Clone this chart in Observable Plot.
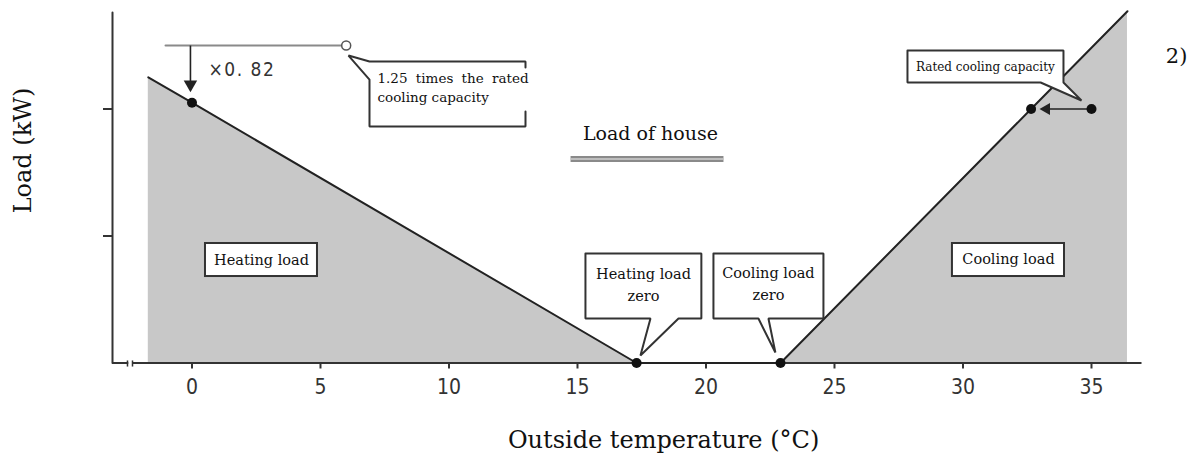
<!DOCTYPE html>
<html><head><meta charset="utf-8">
<script src="https://cdn.jsdelivr.net/npm/d3@7"></script>
<script src="https://cdn.jsdelivr.net/npm/@observablehq/plot@0.6"></script>
<style>body{margin:0;background:#fff}</style>
</head><body><div id="chart"></div>
<script>
// ---- data ----
const temperature = [-1.7, 0, 17.3, 22.9, 32.65, 36.4];   // outside temperature (°C)
const houseLoad   = [2.25, 2.05, 0, 0, 2.0, 2.77];        // load of house (kW, relative)
const xTicks = [0, 5, 10, 15, 20, 25, 30, 35];
const yTicks = [1, 2];
const ratedCooling = 2.0;
const overloadFactor = 1.25;
const derateFactor = 0.82;
const ratedTemp = 35;
const dotTemps = [0, 17.3, 22.9, 32.65, 35];
const dotLoads = [2.05, 0, 0, 2.0, 2.0];
const overloadLineTemps = [-1.03, 6.0];

// ---- layout ----
const W = 1197, H = 460;
const xDomain = [-3.093, 36.946], yDomain = [0, 2.76];
const serif = "'DejaVu Serif', 'Liberation Serif', serif";
const gothic = "'Liberation Sans Narrow', 'DejaVu Sans Condensed', 'Liberation Sans', sans-serif";
const ink = "#222";

const curve = temperature.map((t, i) => ({t, load: houseLoad[i]}));
const dots = dotTemps.map((t, i) => ({t, load: dotLoads[i]}));
const overloadLoad = ratedCooling * overloadFactor;

function path(pts, id) { return pts.map(([x, y]) => ({x, y, id})); }

// callout outlines (data coordinates)
const c1Fill = path([[6.907,2.374],[12.977,2.374],[12.977,1.862],[6.907,1.862],[6.907,2.232],[6.09,2.421],[6.907,2.374]], "c1");
const c1Stroke = path([[12.977,2.327],[12.977,2.374],[6.907,2.374],[6.09,2.421],[6.907,2.232],[6.907,1.862],[12.977,1.862],[12.977,1.980]], "c1s");
const callouts = [
  ...path([[27.84,2.461],[33.91,2.461],[33.91,2.209],[34.61,2.067],[33.02,2.209],[27.84,2.209],[27.84,2.461]], "c2"),
  ...path([[15.31,0.862],[19.82,0.862],[19.82,0.350],[18.93,0.350],[17.45,0.059],[17.84,0.350],[15.31,0.350],[15.31,0.862]], "c3"),
  ...path([[20.29,0.862],[24.57,0.862],[24.57,0.350],[22.43,0.350],[22.70,0.083],[22.04,0.350],[20.29,0.350],[20.29,0.862]], "c4")
];
const boxes = [
  {x1: 0.525, x2: 4.883, y1: 0.681, y2: 0.941},
  {x1: 29.59, x2: 33.95, y1: 0.681, y2: 0.941}
];
const serifLabels = [
  {x: 7.218, y: 2.240, text: "1.25 times the rated", anchor: "start", size: 13.5},
  {x: 7.218, y: 2.090, text: "cooling capacity", anchor: "start", size: 13.5},
  {x: 30.87, y: 2.327, text: "Rated cooling capacity", anchor: "middle", size: 12},
  {x: 17.84, y: 1.807, text: "Load of house", anchor: "middle", size: 19},
  {x: 2.704, y: 0.807, text: "Heating load", anchor: "middle", size: 14.5},
  {x: 31.77, y: 0.815, text: "Cooling load", anchor: "middle", size: 14.5},
  {x: 17.57, y: 0.697, text: "Heating load", anchor: "middle", size: 14.5},
  {x: 17.57, y: 0.524, text: "zero", anchor: "middle", size: 14.5},
  {x: 22.43, y: 0.705, text: "Cooling load", anchor: "middle", size: 14.5},
  {x: 22.43, y: 0.531, text: "zero", anchor: "middle", size: 14.5},
  {x: 38.31, y: 2.413, text: "2)", anchor: "middle", size: 21},
  {x: 18.35, y: -0.61, text: "Outside temperature (°C)", anchor: "middle", size: 24}
];

const chart = Plot.plot({
  width: W, height: H,
  marginLeft: 112, marginRight: 56, marginTop: 12, marginBottom: 97.5,
  x: {domain: xDomain},
  y: {domain: yDomain},
  marks: [
    Plot.areaY(curve, {x: "t", y: "load", fill: "#c8c8c8"}),
    // axis lines with break
    Plot.line([[xDomain[0], yDomain[1]], [xDomain[0], 0], [-2.51, 0]], {x: d => d[0], y: d => d[1], stroke: "#333", strokeWidth: 2}),
    Plot.link([{x1: -2.315, x2: xDomain[1]}], {x1: "x1", x2: "x2", y1: 0, y2: 0, stroke: "#333", strokeWidth: 2}),
    Plot.link([-2.51, -2.315], {x1: d => d, x2: d => d, y1: 0.02, y2: -0.028, stroke: "#333", strokeWidth: 1.5}),
    Plot.axisX({ticks: xTicks, tickSize: 6, tickPadding: 10, fontSize: 21, fontFamily: gothic, color: "#333", strokeWidth: 2, label: null}),
    Plot.axisY({ticks: yTicks, tickSize: 9, tickFormat: () => "", color: "#333", strokeWidth: 2, label: null}),
    // load of house line
    Plot.line(curve, {x: "t", y: "load", stroke: ink, strokeWidth: 2}),
    // 1.25 x rated capacity line and derating arrow
    Plot.line(overloadLineTemps, {x: d => d, y: overloadLoad, stroke: "#8a8a8a", strokeWidth: 2}),
    Plot.link([0], {x1: -0.06, x2: -0.06, y1: overloadLoad, y2: 2.2, stroke: ink, strokeWidth: 1.6}),
    Plot.dot([0], {x: -0.06, y: 2.193, symbol: "triangle", rotate: 180, r: 5, fill: ink}),
    Plot.dot([overloadLineTemps[1]], {x: d => d, y: overloadLoad, r: 4.5, fill: "white", stroke: "#555", strokeWidth: 1.5}),
    Plot.text(["×0. 82"], {x: 0.642, y: 2.307, text: d => d, textAnchor: "start", fontSize: 19, fontFamily: gothic, fill: "#333"}),
    // rated cooling arrow
    Plot.link([ratedTemp], {x1: d => d, x2: 33.3, y1: ratedCooling, y2: ratedCooling, stroke: ink, strokeWidth: 1.6}),
    Plot.dot([0], {x: 33.25, y: ratedCooling, symbol: "triangle", rotate: -90, r: 4.5, fill: ink}),
    // legend-like label underline
    Plot.link([0], {x1: 14.73, x2: 20.68, y1: 1.606, y2: 1.606, stroke: "#8a8a8a", strokeWidth: 6}),
    Plot.link([0], {x1: 14.73, x2: 20.68, y1: 1.606, y2: 1.606, stroke: "#cfcfcf", strokeWidth: 1.5}),
    // callouts
    Plot.line(c1Fill, {x: "x", y: "y", z: "id", fill: "white", stroke: null}),
    Plot.line(c1Stroke, {x: "x", y: "y", z: "id", stroke: "#333", strokeWidth: 2, strokeLinejoin: "miter"}),
    Plot.line(callouts, {x: "x", y: "y", z: "id", fill: "white", stroke: "#333", strokeWidth: 2, strokeLinejoin: "miter"}),
    Plot.rect(boxes, {x1: "x1", x2: "x2", y1: "y1", y2: "y2", fill: "white", stroke: "#333", strokeWidth: 2}),
    // dots
    Plot.dot(dots, {x: "t", y: "load", r: 5, fill: "#111"}),
    // texts
    ...serifLabels.map(l => Plot.text([l], {x: "x", y: "y", text: "text", textAnchor: l.anchor, fontSize: l.size, fontFamily: serif, fill: "#111"})),
    Plot.text(["Load (kW)"], {x: -6.56, y: 1.673, text: d => d, rotate: -90, fontSize: 24, fontFamily: serif, fill: "#111"})
  ]
});
d3.select(chart).selectAll("text").filter(function() { return this.textContent === "1.25 times the rated"; }).style("word-spacing", "4px");
d3.select(chart).selectAll("text").filter(function() { return this.textContent === "×0. 82"; }).style("letter-spacing", "1.5px");
document.getElementById("chart").appendChild(chart);
</script>
</body></html>
